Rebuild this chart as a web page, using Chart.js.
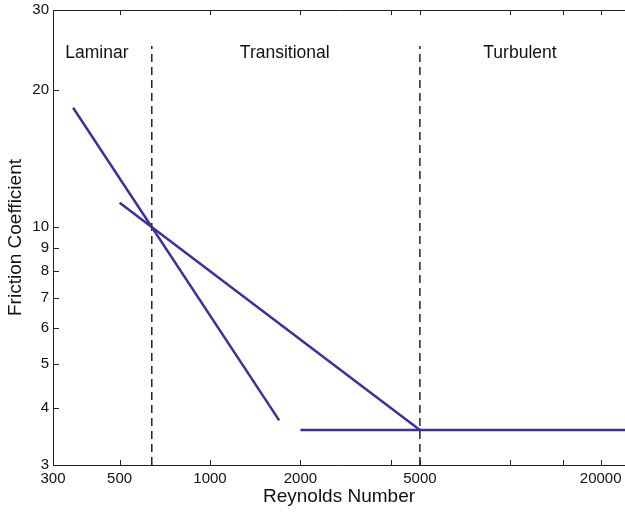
<!DOCTYPE html>
<html>
<head>
<meta charset="utf-8">
<script src="https://cdn.jsdelivr.net/npm/chart.js@4"></script>
<style>
  html, body { margin: 0; padding: 0; background: #fff; }
  #wrap { width: 625px; height: 512px; }
</style>
</head>
<body>
<div id="wrap"><canvas id="grafica"></canvas></div>
<script>
// laminar line: f = 6400 / Re
var laminarRe = [350, 1700];
var laminarF = [18.29, 3.76];
// transitional line: f ~ Re^-0.5
var transRe = [500, 5000];
var transF = [11.31, 3.58];
// turbulent: constant
var turbRe = [2000, 24100];
var turbF = [3.58, 3.58];
// region borders
var borderRe = [640, 5000];
var borderF = [3, 25];
// region names
var regionNames = ['Laminar', 'Transitional', 'Turbulent'];
var regionRe = [420, 1774, 10770];
var regionF = [24.1, 24.1, 24.1];
// axis ticks
var xTicks = [300, 500, 1000, 2000, 4000, 5000, 10000, 15000, 20000];
var xLabels = [300, 500, 1000, 2000, 5000, 20000];
var yTicks = [3, 4, 5, 6, 7, 8, 9, 10, 20, 30];

var lineColor = '#38339c';
var font = '"Liberation Sans", Arial, sans-serif';

function pts(xs, ys) {
    return xs.map(function (x, i) { return {x: x, y: ys[i]}; });
}

var datasets = [
    {data: pts(laminarRe, laminarF), borderColor: lineColor, borderWidth: 2.5},
    {data: pts(transRe, transF), borderColor: lineColor, borderWidth: 2.5},
    {data: pts(turbRe, turbF), borderColor: lineColor, borderWidth: 2.5}
];
borderRe.forEach(function (re) {
    datasets.push({
        data: pts([re, re], borderF),
        borderColor: '#000', borderWidth: 1.3, borderDash: [8, 5]
    });
});

// frame, inward tick marks and region names
var marcoPlugin = {
    id: 'marco',
    afterDatasetsDraw: function (chart) {
        var ctx = chart.ctx, a = chart.chartArea;
        var xs = chart.scales.x, ys = chart.scales.y;
        ctx.save();
        ctx.strokeStyle = '#222';
        ctx.lineWidth = 1;
        ctx.beginPath();
        ctx.moveTo(a.left + 0.5, a.bottom + 0.5);
        ctx.lineTo(a.left + 0.5, a.top + 0.5);
        ctx.lineTo(a.right, a.top + 0.5);
        ctx.moveTo(a.left + 0.5, a.bottom + 0.5);
        ctx.lineTo(a.right, a.bottom + 0.5);
        xTicks.forEach(function (v) {
            var px = Math.round(xs.getPixelForValue(v)) + 0.5;
            ctx.moveTo(px, a.bottom);
            ctx.lineTo(px, a.bottom - 5);
            ctx.moveTo(px, a.top);
            ctx.lineTo(px, a.top + 5);
        });
        yTicks.forEach(function (v) {
            var py = Math.round(ys.getPixelForValue(v)) + 0.5;
            ctx.moveTo(a.left, py);
            ctx.lineTo(a.left + 6, py);
        });
        ctx.stroke();

        ctx.fillStyle = '#111';
        ctx.font = '17.5px ' + font;
        ctx.textAlign = 'center';
        ctx.textBaseline = 'middle';
        regionNames.forEach(function (t, i) {
            ctx.fillText(t, xs.getPixelForValue(regionRe[i]), ys.getPixelForValue(regionF[i]));
        });
        ctx.restore();
    }
};

var ctx1 = document.getElementById('grafica').getContext('2d');
var chart = new Chart(ctx1, {
    type: 'scatter',
    data: {datasets: datasets},
    options: {
        responsive: true,
        maintainAspectRatio: false,
        animation: false,
        layout: {padding: {top: 10, right: 0, bottom: 0, left: 0}},
        elements: {
            point: {radius: 0, hoverRadius: 0},
            line: {tension: 0, fill: false}
        },
        datasets: {scatter: {showLine: true}},
        plugins: {legend: {display: false}, tooltip: {enabled: false}},
        scales: {
            x: {
                type: 'logarithmic',
                min: 300,
                max: 24100,
                grid: {display: false, drawTicks: false},
                border: {display: false},
                afterBuildTicks: function (s) {
                    s.ticks = xTicks.map(function (v) { return {value: v}; });
                },
                afterFit: function (s) {
                    s.height = 47;
                    s.paddingLeft = 0;
                    s.paddingRight = 0;
                },
                ticks: {
                    padding: 5,
                    maxRotation: 0,
                    autoSkip: false,
                    color: '#111',
                    font: {family: font, size: 15},
                    callback: function (v) { return xLabels.indexOf(v) >= 0 ? String(v) : ''; }
                },
                title: {
                    display: true, text: 'Reynolds Number', color: '#111',
                    font: {family: font, size: 19}, padding: {top: 0, bottom: 4}
                }
            },
            y: {
                type: 'logarithmic',
                min: 3,
                max: 30,
                grid: {display: false, drawTicks: false},
                border: {display: false},
                afterBuildTicks: function (s) {
                    s.ticks = yTicks.map(function (v) { return {value: v}; });
                },
                afterFit: function (s) {
                    s.width = 53;
                    s.paddingTop = 0;
                    s.paddingBottom = 0;
                },
                ticks: {
                    padding: 4,
                    autoSkip: false,
                    color: '#111',
                    font: {family: font, size: 15},
                    callback: function (v) { return String(v); }
                },
                title: {
                    display: true, text: 'Friction Coefficient', color: '#111',
                    font: {family: font, size: 19}, padding: {top: 4, bottom: 0}
                }
            }
        }
    },
    plugins: [marcoPlugin]
});
</script>
</body>
</html>
